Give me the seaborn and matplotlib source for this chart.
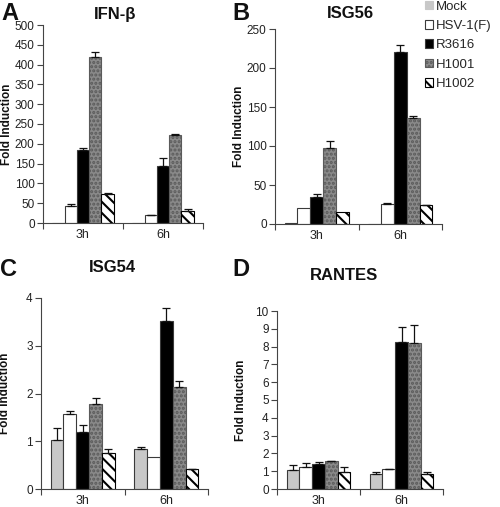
import numpy as np
import pandas as pd
import matplotlib
matplotlib.use("Agg")
import matplotlib.pyplot as plt
from matplotlib.patches import Patch
import seaborn as sns

viruses = ["Mock", "HSV-1(F)", "R3616", "H1001", "H1002"]
times = ["3h", "6h"]

ifnb_3h = [1, 43, 185, 420, 73]
ifnb_6h = [1, 20, 144, 223, 31]
ifnb_err_3h = [0, 5, 5, 12, 4]
ifnb_err_6h = [0, 1, 20, 2, 5]

isg56_3h = [1, 20, 34, 97, 15]
isg56_6h = [0.5, 26, 220, 136, 24]
isg56_err_3h = [0, 0, 5, 10, 0]
isg56_err_6h = [0, 1, 9, 2, 1]

isg54_3h = [1.02, 1.58, 1.20, 1.78, 0.75]
isg54_6h = [0.84, 0.68, 3.52, 2.14, 0.41]
isg54_err_3h = [0.25, 0.05, 0.15, 0.12, 0.08]
isg54_err_6h = [0.04, 0.0, 0.27, 0.12, 0.01]

rantes_3h = [1.05, 1.25, 1.40, 1.55, 0.97]
rantes_6h = [0.85, 1.10, 8.25, 8.20, 0.85]
rantes_err_3h = [0.30, 0.20, 0.12, 0.05, 0.25]
rantes_err_6h = [0.12, 0.02, 0.85, 1.00, 0.08]

panels = [
    ("A", "IFN-β", ifnb_3h, ifnb_6h, ifnb_err_3h, ifnb_err_6h, 500, 50),
    ("B", "ISG56", isg56_3h, isg56_6h, isg56_err_3h, isg56_err_6h, 250, 50),
    ("C", "ISG54", isg54_3h, isg54_6h, isg54_err_3h, isg54_err_6h, 4, 1),
    ("D", "RANTES", rantes_3h, rantes_6h, rantes_err_3h, rantes_err_6h, 10, 1),
]

colors = ["#c8c8c8", "#ffffff", "#000000", "#8a8a8a", "#ffffff"]
hatches = [None, None, None, "....", "\\\\\\"]
hatch_edges = [None, None, None, "#5a5a5a", "#000000"]

sns.set_theme(style="white")
plt.rcParams["font.family"] = ["Liberation Sans", "DejaVu Sans"]
plt.rcParams["hatch.linewidth"] = 1.5

fig = plt.figure(figsize=(5.0, 5.07), dpi=100)
W, H = 500, 507
boxes = {
    "A": (43, 25, 203, 223),
    "B": (275, 29, 442, 224),
    "C": (41, 298, 208, 489),
    "D": (277, 311, 443, 489),
}
letter_pos = {"A": (1, 20), "B": (232, 20), "C": (0, 276), "D": (232, 276)}
title_pos = {"A": (115, 15), "B": (350, 14), "C": (112, 268), "D": (344, 275)}

for letter, title, v3, v6, e3, e6, ymax, ystep in panels:
    x0, y0, x1, y1 = boxes[letter]
    ax = fig.add_axes([x0 / W, 1 - y1 / H, (x1 - x0) / W, (y1 - y0) / H])
    df = pd.DataFrame({
        "time": [times[0]] * 5 + [times[1]] * 5,
        "virus": viruses * 2,
        "value": list(v3) + list(v6),
        "err": list(e3) + list(e6),
    })
    sns.barplot(data=df, x="time", y="value", hue="virus", hue_order=viruses,
                order=times, palette=colors, width=0.77, edgecolor="#3a3a3a",
                linewidth=0.8, errorbar=None, legend=False, ax=ax, saturation=1)
    bars = list(ax.patches)
    idx = 0
    for hi, v in enumerate(viruses):
        for ti, t in enumerate(times):
            p = bars[idx]
            idx += 1
            if hatches[hi]:
                p.set_hatch(hatches[hi])
                p.set_edgecolor(hatch_edges[hi])
            err = df[(df.virus == v) & (df.time == t)]["err"].values[0]
            if err > 0:
                cx = p.get_x() + p.get_width() / 2
                hgt = p.get_height()
                ax.errorbar([cx], [hgt], yerr=[[0], [err]], fmt="none",
                            ecolor="#111111", elinewidth=0.9, capsize=2.8,
                            capthick=0.9, zorder=3)
    ax.set_xlim(-0.5, 1.5)
    ax.set_ylim(0, ymax)
    ax.set_yticks(np.arange(0, ymax + ystep / 2, ystep))
    ax.set_xticks([0, 1])
    ax.set_xticklabels(times)
    ax.set_xticks([-0.5, 0.5, 1.5], minor=True)
    ax.tick_params(axis="x", which="major", length=0, labelsize=9, pad=4.5,
                   labelcolor="#222222")
    ax.tick_params(axis="x", which="minor", length=4, width=0.8,
                   direction="out", color="#444444", bottom=True)
    ax.tick_params(axis="y", which="major", length=4, width=0.8,
                   direction="out", color="#444444", left=True, labelsize=8.5,
                   labelcolor="#222222", pad=2)
    for s in ["top", "right"]:
        ax.spines[s].set_visible(False)
    for s in ["left", "bottom"]:
        ax.spines[s].set_color("#444444")
        ax.spines[s].set_linewidth(0.8)
    ax.set_xlabel("")
    ax.set_ylabel("Fold Induction", fontsize=8.5, fontweight="bold",
                  color="#111111")
    ax.yaxis.set_label_coords(-30 / (x1 - x0), 0.5)
    lx, ly = letter_pos[letter]
    fig.text(lx / W, 1 - ly / H, letter, fontsize=17, fontweight="bold",
             ha="left", va="baseline", color="#111111")
    tx, ty = title_pos[letter]
    fig.text(tx / W, 1 - ty / H, title, fontsize=12, fontweight="bold",
             ha="center", va="center", color="#111111")

handles = []
for hi, v in enumerate(viruses):
    if hatches[hi]:
        handles.append(Patch(facecolor=colors[hi], edgecolor=hatch_edges[hi],
                             hatch=hatches[hi], linewidth=0.8, label=v))
    elif v == "Mock":
        handles.append(Patch(facecolor=colors[hi], edgecolor=colors[hi],
                             linewidth=0.8, label=v))
    else:
        handles.append(Patch(facecolor=colors[hi], edgecolor="#3a3a3a",
                             linewidth=0.8, label=v))
fig.legend(handles=handles, loc="upper left", bbox_to_anchor=(422 / W, 1 + 2 / H),
           frameon=False, fontsize=9.5, handlelength=0.65, handleheight=0.65,
           handletextpad=0.2, labelspacing=0.55, borderaxespad=0, borderpad=0.2)

fig.savefig("out.png", dpi=100)
